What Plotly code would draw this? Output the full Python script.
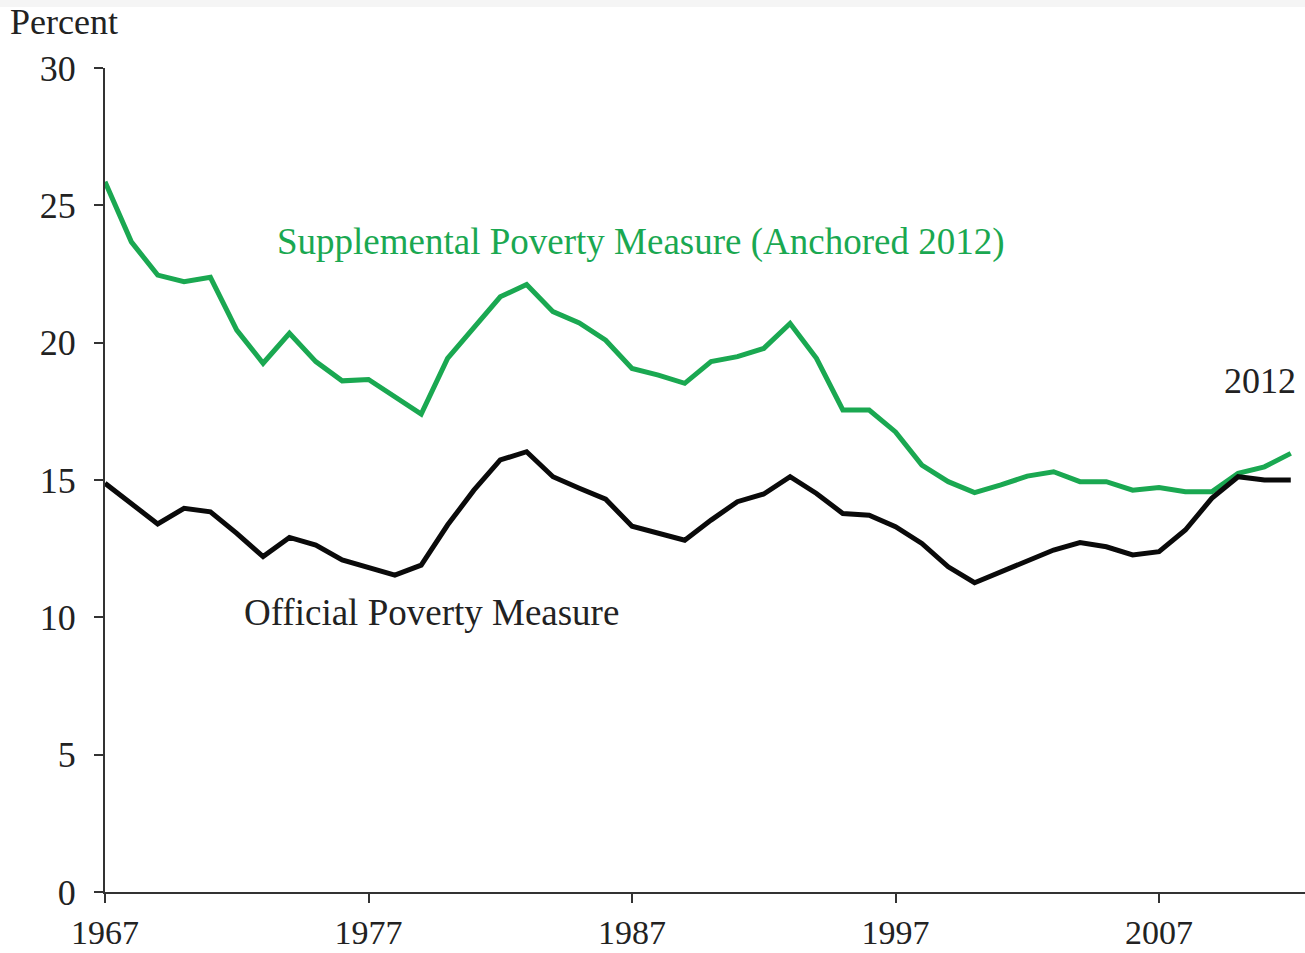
import plotly.graph_objects as go

years = list(range(1967, 2013))

spm = [25.86, 23.67, 22.46, 22.22, 22.38, 20.46, 19.25, 20.34, 19.31, 18.61,
       18.66, 18.03, 17.40, 19.43, 20.58, 21.67, 22.12, 21.13, 20.72, 20.09,
       19.06, 18.82, 18.52, 19.31, 19.49, 19.79, 20.70, 19.43, 17.55, 17.55,
       16.75, 15.54, 14.94, 14.54, 14.82, 15.14, 15.30, 14.94, 14.94, 14.63,
       14.73, 14.57, 14.57, 15.24, 15.48, 15.97]

opm = [14.88, 14.15, 13.40, 13.97, 13.84, 13.06, 12.21, 12.91, 12.63, 12.09,
       11.82, 11.54, 11.90, 13.36, 14.63, 15.73, 16.03, 15.12, 14.70, 14.30,
       13.32, 13.06, 12.81, 13.54, 14.21, 14.49, 15.12, 14.51, 13.78, 13.72,
       13.30, 12.69, 11.84, 11.26, 11.66, 12.09, 12.45, 12.72, 12.57, 12.27,
       12.39, 13.18, 14.33, 15.12, 15.00, 15.00]

x_ticks = [1967, 1977, 1987, 1997, 2007]
y_ticks = [0, 5, 10, 15, 20, 25, 30]

GREEN = "#1aa851"
FONT = "Liberation Serif"

fig = go.Figure()
fig.add_trace(go.Scatter(x=years, y=spm, mode="lines",
                         line=dict(color=GREEN, width=5), showlegend=False))
fig.add_trace(go.Scatter(x=years, y=opm, mode="lines",
                         line=dict(color="#0a0a0a", width=5), showlegend=False))

fig.update_layout(
    width=1305, height=953,
    margin=dict(l=105, r=0, t=68, b=61),
    paper_bgcolor="white", plot_bgcolor="white",
    font=dict(family=FONT, size=36, color="#222222"),
    xaxis=dict(range=[1967, 2012.54], tickvals=x_ticks, showgrid=False,
               zeroline=False, showline=True, linecolor="#333333", linewidth=2,
               ticks="outside", ticklen=9, tickwidth=2, tickcolor="#333333",
               ticklabelstandoff=0, automargin=False,
               tickfont=dict(size=34, family=FONT)),
    yaxis=dict(range=[0, 30], tickvals=y_ticks, showgrid=False,
               zeroline=False, showline=True, linecolor="#333333", linewidth=2,
               ticks="outside", ticklen=9, tickwidth=2, tickcolor="#333333",
               ticklabelstandoff=11, automargin=False,
               tickfont=dict(size=36, family=FONT)),
    shapes=[dict(type="rect", xref="paper", yref="paper",
                 x0=-0.1, x1=1.1, y0=1 + 61/824, y1=1.2,
                 fillcolor="#f5f5f5", line=dict(width=0), layer="below")],
    annotations=[
        dict(text="Percent", xref="paper", yref="paper", x=-97/1200, y=1 + 46/824,
             xanchor="left", yanchor="middle", showarrow=False,
             font=dict(size=36, family=FONT, color="#222222")),
        dict(text="Supplemental Poverty Measure (Anchored 2012)", xref="x", yref="y",
             x=1973.45, y=23.65, xanchor="left", yanchor="middle", showarrow=False,
             font=dict(size=37, family=FONT, color=GREEN)),
        dict(text="Official Poverty Measure", xref="x", yref="y",
             x=1972.2, y=10.18, xanchor="left", yanchor="middle", showarrow=False,
             font=dict(size=37, family=FONT, color="#222222")),
        dict(text="2012", xref="x", yref="y",
             x=2012.28, y=18.6, xanchor="right", yanchor="middle", showarrow=False,
             font=dict(size=36, family=FONT, color="#222222")),
    ],
)

fig.write_html("out.html", config={"displayModeBar": False},
               post_script="document.body.style.margin='0';document.body.style.padding='0';document.body.style.overflow='hidden';")
